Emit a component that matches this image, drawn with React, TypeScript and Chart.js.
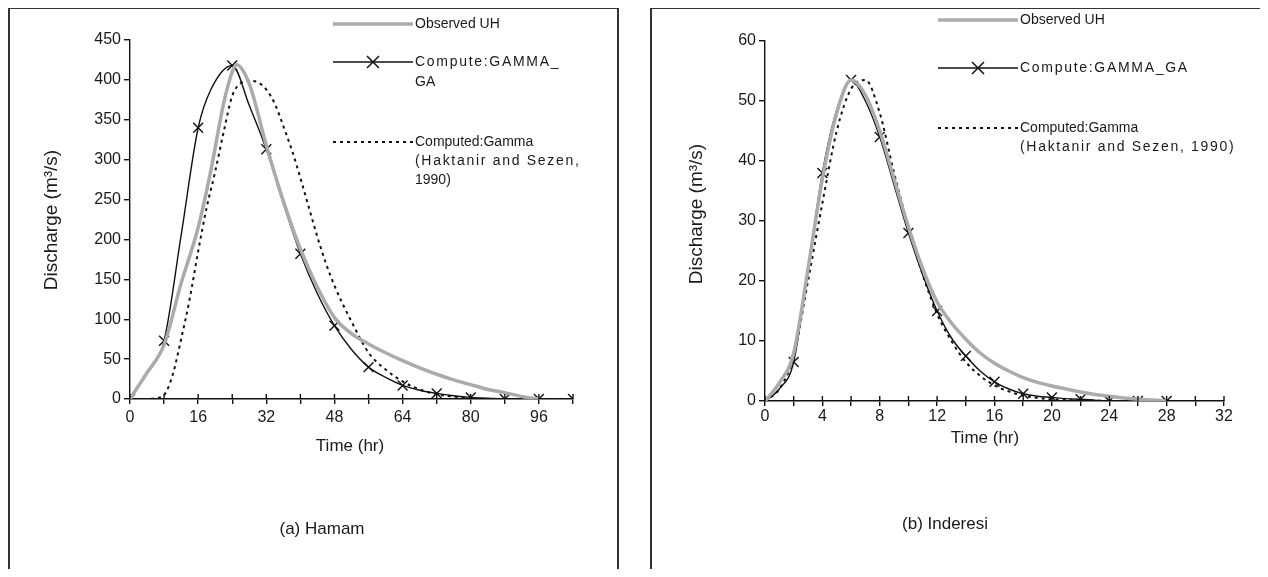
import React, { useEffect, useRef } from 'react';
import { Chart, registerables } from 'chart.js';

Chart.register(...registerables);

const FONT = 'Arial, "Liberation Sans", sans-serif';

// ---------- (a) Hamam ----------
const hamamObsT = [0, 4, 8, 12, 16, 19, 22, 24, 25, 28, 32, 36, 40, 44, 48, 52, 56, 60, 64, 68, 72, 76, 80, 84, 88, 92, 96];
const hamamObsQ = [0, 33, 68, 145, 215, 287, 371, 410, 419, 395, 318, 248, 188, 140, 102, 82, 69, 58, 48, 39, 31, 24, 18, 12, 8, 3, 0];
const hamamGaT = [0, 4, 8, 12, 16, 19, 24, 28, 32, 36, 40, 44, 48, 52, 56, 60, 64, 68, 72, 76, 80, 84, 88, 92, 96, 100, 104];
const hamamGaQ = [0, 32, 73, 205, 340, 388, 418, 368, 313, 245, 182, 132, 92, 62, 40, 27, 17, 11, 7, 4, 2, 1, 0, 0, 0, 0, 0];
const hamamGamT = [0, 4, 6, 8, 10, 12, 14, 16, 18, 20, 22, 24, 26, 28, 30, 32, 34, 36, 38, 40, 42, 44, 46, 48, 52, 56, 60, 64, 68, 72, 76, 80, 84, 88, 96, 104];
const hamamGamQ = [0, 0, 1, 5, 30, 75, 125, 185, 240, 285, 335, 380, 396, 399, 397, 388, 370, 342, 312, 277, 240, 203, 170, 142, 97, 58, 37, 22, 12, 6, 3, 1, 0, 0, 0, 0];
const hamamXTicks = { max: 104, step: 8, labelEvery: 16 };
const hamamYTicks = { max: 450, step: 50 };

// ---------- (b) Inderesi ----------
const indObsT = [0, 1, 2, 3, 4, 5, 6, 7, 8, 9, 10, 11, 12, 13, 14, 15, 16, 17, 18, 19, 20, 21, 22, 23, 24, 25, 26, 27, 28];
const indObsQ = [0, 3, 8, 22, 37, 48, 53.5, 51, 45, 37, 29, 22, 16.5, 13, 10.3, 8, 6.3, 5, 3.9, 3.1, 2.5, 2, 1.5, 1.1, 0.8, 0.5, 0.3, 0.15, 0];
const indGaT = [0, 1, 2, 3, 4, 5, 6, 7, 8, 9, 10, 11, 12, 13, 14, 15, 16, 17, 18, 19, 20, 21, 22, 23, 24, 25, 26, 27, 28];
const indGaQ = [0, 2, 6.5, 22, 38, 48.5, 53.5, 50, 44, 36, 28, 21, 15, 10.5, 7.5, 5, 3.2, 2, 1.2, 0.8, 0.6, 0.4, 0.3, 0.15, 0, 0, 0, 0, 0];
const indGamT = [0, 1, 2, 3, 4, 5, 6, 7, 8, 9, 10, 11, 12, 13, 14, 15, 16, 17, 18, 19, 20, 22, 24];
const indGamQ = [0, 2, 7.5, 20, 33, 45, 52, 53.5, 48, 38, 29, 21, 14.5, 10, 6.5, 4.2, 2.6, 1.6, 0.9, 0.5, 0.3, 0.1, 0];
const indXTicks = { max: 32, step: 2, labelEvery: 4 };
const indYTicks = { max: 60, step: 10 };

const legendObs = ['Observed UH'];
const legendGaLeft = ['Compute:GAMMA_', 'GA'];
const legendGaRight = ['Compute:GAMMA_GA'];
const legendGamLeft = ['Computed:Gamma', '(Haktanir and Sezen,', '1990)'];
const legendGamRight = ['Computed:Gamma', '(Haktanir and Sezen, 1990)'];
const yTitle = 'Discharge (m\u00B3/s)';
const xTitle = 'Time (hr)';

const pts = (t: number[], q: number[]) => t.map((x, i) => ({ x, y: q[i] }));

type PanelCfg = {
  box: { left: number; top: number; width: number; height: number };
  area: { left: number; right: number; top: number; bottom: number };
  xT: { max: number; step: number; labelEvery: number };
  yT: { max: number; step: number };
  obs: { x: number; y: number }[];
  ga: { x: number; y: number }[];
  gam: { x: number; y: number }[];
  markEvery: number;
  xPad: number;
  legend: { x0: number; x1: number; mx: number; tx: number; yObs: number; yGa: number; yGam: number; ga: string[]; gam: string[] };
  yTitlePos: { x: number; y: number };
  xTitlePos: { x: number; y: number };
  caption: { text: string; x: number; y: number };
};

const spaced = (s: string) => /GAMMA|Haktanir/.test(s);

function Panel({ cfg }: { cfg: PanelCfg }) {
  const ref = useRef<HTMLCanvasElement | null>(null);
  useEffect(() => {
    const canvas = ref.current!;
    const W = cfg.box.width;
    const H = cfg.box.height;
    const ox = cfg.box.left;
    const oy = cfg.box.top;
    const aL = cfg.area.left - ox;
    const aR = cfg.area.right - ox;
    const aT = cfg.area.top - oy;
    const aB = cfg.area.bottom - oy;

    const decor = {
      id: 'decor',
      afterDraw(chart: any) {
        const ctx = chart.ctx as any;
        const xs = chart.scales.x;
        const ca = chart.chartArea;
        ctx.save();
        // inner halves of crossing x ticks
        ctx.strokeStyle = '#111';
        ctx.lineWidth = 1.4;
        for (let v = 0; v <= cfg.xT.max; v += cfg.xT.step) {
          const px = xs.getPixelForValue(v);
          ctx.beginPath();
          ctx.moveTo(px, ca.bottom - 5);
          ctx.lineTo(px, ca.bottom);
          ctx.stroke();
        }
        // titles
        ctx.fillStyle = '#1a1a1a';
        ctx.textAlign = 'center';
        ctx.textBaseline = 'middle';
        ctx.font = `17px ${FONT}`;
        ctx.fillText(xTitle, cfg.xTitlePos.x - ox, cfg.xTitlePos.y - oy);
        ctx.fillText(cfg.caption.text, cfg.caption.x - ox, cfg.caption.y - oy);
        ctx.save();
        ctx.font = `19px ${FONT}`;
        ctx.translate(cfg.yTitlePos.x - ox, cfg.yTitlePos.y - oy);
        ctx.rotate(-Math.PI / 2);
        ctx.fillText(yTitle, 0, 0);
        ctx.restore();
        // legend
        const L = cfg.legend;
        const x0 = L.x0 - ox, x1 = L.x1 - ox;
        ctx.lineCap = 'butt';
        ctx.strokeStyle = '#ababab';
        ctx.lineWidth = 3.5;
        ctx.beginPath();
        ctx.moveTo(x0, L.yObs - oy);
        ctx.lineTo(x1, L.yObs - oy);
        ctx.stroke();
        ctx.strokeStyle = '#111';
        ctx.lineWidth = 1.5;
        ctx.beginPath();
        ctx.moveTo(x0, L.yGa - oy);
        ctx.lineTo(x1, L.yGa - oy);
        ctx.stroke();
        const mx = L.mx - ox, my = L.yGa - oy, r = 6;
        ctx.beginPath();
        ctx.moveTo(mx - r, my - r);
        ctx.lineTo(mx + r, my + r);
        ctx.moveTo(mx - r, my + r);
        ctx.lineTo(mx + r, my - r);
        ctx.stroke();
        ctx.lineWidth = 2;
        ctx.setLineDash([3, 4]);
        ctx.beginPath();
        ctx.moveTo(x0, L.yGam - oy);
        ctx.lineTo(x1, L.yGam - oy);
        ctx.stroke();
        ctx.setLineDash([]);
        ctx.font = `14px ${FONT}`;
        ctx.textAlign = 'left';
        ctx.fillStyle = '#1a1a1a';
        const tx = L.tx - ox;
        const draw = (s: string, y: number) => {
          ctx.letterSpacing = spaced(s) ? '1.7px' : '0px';
          ctx.fillText(s, tx, y);
        };
        legendObs.forEach((s, i) => draw(s, L.yObs - oy + i * 20));
        L.ga.forEach((s, i) => draw(s, L.yGa - oy + i * 20));
        L.gam.forEach((s, i) => draw(s, L.yGam - oy + i * 19));
        ctx.letterSpacing = '0px';
        ctx.restore();
      },
    };

    const tickFont = { family: FONT, size: 16 };
    const chart = new Chart(canvas, {
      type: 'line',
      data: {
        datasets: [
          {
            label: 'Observed UH',
            data: cfg.obs,
            borderColor: '#ababab',
            borderWidth: 3.5,
            pointRadius: 0,
            cubicInterpolationMode: 'monotone',
            fill: false,
          },
          {
            label: 'Compute:GAMMA_GA',
            data: cfg.ga,
            borderColor: '#111',
            borderWidth: 1.4,
            pointStyle: 'crossRot',
            pointRadius: (c: any) => (c.raw && c.raw.x % cfg.markEvery === 0 ? 7 : 0),
            pointBorderColor: '#111',
            pointBorderWidth: 1.4,
            pointBackgroundColor: 'rgba(0,0,0,0)',
            cubicInterpolationMode: 'monotone',
            fill: false,
          },
          {
            label: 'Computed:Gamma',
            data: cfg.gam,
            borderColor: '#111',
            borderWidth: 2,
            borderDash: [3, 4],
            pointRadius: 0,
            cubicInterpolationMode: 'monotone',
            fill: false,
          },
        ],
      },
      options: {
        responsive: false,
        animation: false,
        events: [],
        layout: { padding: { left: 0, top: aT, right: W - aR, bottom: 0 } },
        plugins: { legend: { display: false }, tooltip: { enabled: false }, title: { display: false } },
        scales: {
          x: {
            type: 'linear',
            min: 0,
            max: cfg.xT.max,
            afterBuildTicks: (s: any) => {
              const t = [];
              for (let v = 0; v <= cfg.xT.max; v += cfg.xT.step) t.push({ value: v });
              s.ticks = t;
            },
            ticks: {
              autoSkip: false,
              maxRotation: 0,
              font: tickFont,
              color: '#1a1a1a',
              padding: cfg.xPad,
              callback: (v: any) => (Number(v) % cfg.xT.labelEvery === 0 ? String(v) : ''),
            },
            grid: { drawOnChartArea: false, drawTicks: true, tickLength: 5, color: '#111', lineWidth: 1.4 },
            border: { color: '#111', width: 1.4 },
            afterFit: (s: any) => {
              s.height = H - aB;
            },
          },
          y: {
            type: 'linear',
            min: 0,
            max: cfg.yT.max,
            ticks: { stepSize: cfg.yT.step, font: tickFont, color: '#1a1a1a', padding: 3 },
            grid: { drawOnChartArea: false, drawTicks: true, tickLength: 6, color: '#111', lineWidth: 1.4 },
            border: { color: '#111', width: 1.4 },
            afterFit: (s: any) => {
              s.width = aL;
            },
          },
        },
      },
      plugins: [decor],
    } as any);
    return () => chart.destroy();
  }, [cfg]);

  return (
    <>
      <canvas
        ref={ref}
        width={cfg.box.width}
        height={cfg.box.height}
        style={{ position: 'absolute', left: cfg.box.left, top: cfg.box.top, width: cfg.box.width, height: cfg.box.height }}
      />
      <div
        style={{
          position: 'absolute',
          left: cfg.box.left,
          top: cfg.box.top,
          width: cfg.box.width,
          height: cfg.box.height,
          boxSizing: 'border-box',
          borderTop: '2px solid #333',
          borderLeft: '2px solid #333',
          borderRight: '2px solid #333',
          pointerEvents: 'none',
        }}
      />
    </>
  );
}

const leftCfg: PanelCfg = {
  box: { left: 8, top: 7, width: 611, height: 570 },
  area: { left: 130, right: 573, top: 40, bottom: 399 },
  xT: hamamXTicks,
  yT: hamamYTicks,
  obs: pts(hamamObsT, hamamObsQ),
  ga: pts(hamamGaT, hamamGaQ),
  gam: pts(hamamGamT, hamamGamQ),
  markEvery: 8,
  xPad: 4,
  legend: { x0: 333, x1: 413, mx: 373, tx: 415, yObs: 24, yGa: 62, yGam: 142, ga: legendGaLeft, gam: legendGamLeft },
  yTitlePos: { x: 52, y: 220 },
  xTitlePos: { x: 350, y: 446 },
  caption: { text: '(a) Hamam', x: 322, y: 529 },
};

const rightCfg: PanelCfg = {
  box: { left: 650, top: 7, width: 613, height: 570 },
  area: { left: 765, right: 1224, top: 41, bottom: 401 },
  xT: indXTicks,
  yT: indYTicks,
  obs: pts(indObsT, indObsQ),
  ga: pts(indGaT, indGaQ),
  gam: pts(indGamT, indGamQ),
  markEvery: 2,
  xPad: 1,
  legend: { x0: 938, x1: 1018, mx: 978, tx: 1020, yObs: 20, yGa: 68, yGam: 128, ga: legendGaRight, gam: legendGamRight },
  yTitlePos: { x: 697, y: 214 },
  xTitlePos: { x: 985, y: 438 },
  caption: { text: '(b) Inderesi', x: 945, y: 524 },
};

export default function App() {
  return (
    <div style={{ position: 'relative', width: 1268, height: 577, overflow: 'hidden', margin: -8, background: '#fff' }}>
      <Panel cfg={leftCfg} />
      <Panel cfg={rightCfg} />
    </div>
  );
}
